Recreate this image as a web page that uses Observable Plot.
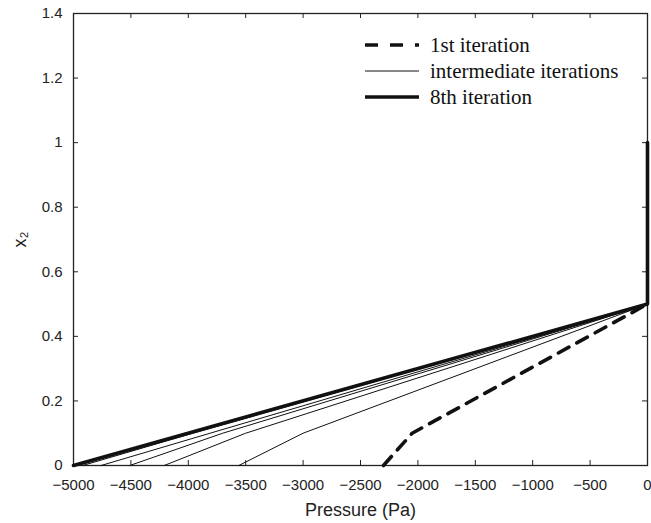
<!DOCTYPE html>
<html><head><meta charset="utf-8">
<script src="https://cdn.jsdelivr.net/npm/d3@7"></script>
<script src="https://cdn.jsdelivr.net/npm/@observablehq/plot@0.6"></script>
<style>
html,body{margin:0;padding:0;background:#fff;}
#wrap{position:relative;width:651px;height:523px;overflow:hidden;}
#legend{position:absolute;left:365px;top:32px;font-family:"Liberation Serif","Times New Roman",serif;font-size:21px;color:#111;}
.row{display:flex;align-items:center;height:26px;white-space:nowrap;}
.row svg{width:54px;height:10px;margin-right:11px;flex:none;}
svg [aria-label="x-axis label"] text, svg [aria-label="y-axis label"] text{font-size:18px;}
</style></head><body><div id="wrap"><div id="legend"></div></div>
<script>
// Tick values
const xTicks = [-5000, -4500, -4000, -3500, -3000, -2500, -2000, -1500, -1000, -500, 0];
const yTicks = [0, 0.2, 0.4, 0.6, 0.8, 1, 1.2, 1.4];

// 1st iteration (dashed)
const iter1Pressure = [-2300, -2050, 0];
const iter1X2 = [0, 0.1, 0.5];

// intermediate iterations (thin)
const midPressure = [
  [-3560, -3000, 0],
  [-4210, -3500, 0],
  [-4510, -3700, 0],
  [-4760, -3810, 0],
  [-4920, -3960, 0],
  [-4980, -3990, 0]
];
const midX2 = [0, 0.1, 0.5];

// 8th iteration (thick)
const iter8Pressure = [-5000, 0, 0];
const iter8X2 = [0, 0.5, 1];

const legendLabels = ["1st iteration", "intermediate iterations", "8th iteration"];

// build tables
const iter1 = iter1Pressure.map((p, i) => ({p, x2: iter1X2[i]}));
const mids = midPressure.flatMap((arr, k) => arr.map((p, i) => ({p, x2: midX2[i], it: k + 2})));
const iter8 = iter8Pressure.map((p, i) => ({p, x2: iter8X2[i]}));

const fmtX = d3.format("d");
const fmtY = d3.format("~g");

const W = 651, H = 523, mL = 73, mR = 4, mT = 13, mB = 58;
const plotW = W - mL - mR, plotH = H - mT - mB, tick = 5;

const chart = Plot.plot({
  width: W, height: H,
  marginLeft: mL, marginRight: mR, marginTop: mT, marginBottom: mB,
  style: {fontFamily: '"Liberation Sans", Arial, sans-serif', fontSize: "15px", color: "#222", background: "#fff", overflow: "visible"},
  x: {domain: [-5000, 0]},
  y: {domain: [0, 1.4]},
  marks: [
    Plot.axisX(xTicks, {anchor: "bottom", tickSize: 0, tickPadding: 14, fontSize: 15, tickFormat: fmtX, label: "Pressure (Pa)", labelAnchor: "center", labelOffset: 50, labelArrow: false}),
    Plot.axisY(yTicks, {anchor: "left", tickSize: 0, tickPadding: 11, fontSize: 15, tickFormat: fmtY, label: "x₂", labelAnchor: "center", labelOffset: 60, labelArrow: false}),
    // inward ticks on all four sides
    Plot.tickX(xTicks, {x: d => d, insetTop: plotH - tick, stroke: "#222"}),
    Plot.tickX(xTicks, {x: d => d, insetBottom: plotH - tick, stroke: "#222"}),
    Plot.tickY(yTicks, {y: d => d, insetRight: plotW - tick, stroke: "#222"}),
    Plot.tickY(yTicks, {y: d => d, insetLeft: plotW - tick, stroke: "#222"}),
    Plot.frame({stroke: "#222", strokeWidth: 1.3}),
    Plot.line(mids, {x: "p", y: "x2", z: "it", stroke: "#111", strokeWidth: 1}),
    Plot.line(iter1, {x: "p", y: "x2", stroke: "#111", strokeWidth: 3.6, strokeDasharray: "12,9"}),
    Plot.line(iter8, {x: "p", y: "x2", stroke: "#111", strokeWidth: 3.6})
  ]
});
document.getElementById("wrap").prepend(chart);

// legend
const styles = [
  {w: 3.6, dash: "13,12"},
  {w: 1.1, dash: null},
  {w: 3.6, dash: null}
];
const leg = document.getElementById("legend");
legendLabels.forEach((lab, i) => {
  const row = document.createElement("div");
  row.className = "row";
  const s = styles[i];
  row.innerHTML = `<svg viewBox="0 0 54 10"><line x1="0" x2="54" y1="5" y2="5" stroke="#111" stroke-width="${s.w}" ${s.dash ? `stroke-dasharray="${s.dash}"` : ""}/></svg><span>${lab}</span>`;
  leg.appendChild(row);
});
</script></body></html>
